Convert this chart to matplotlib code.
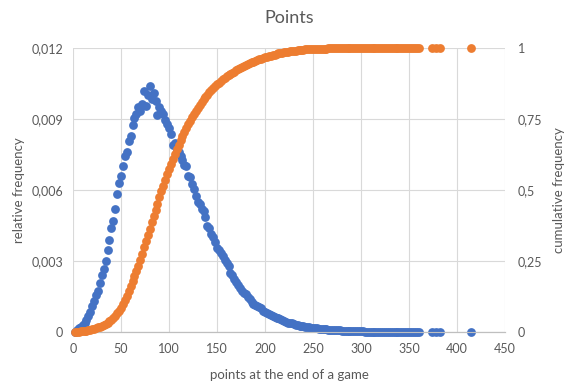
import numpy as np
import matplotlib.pyplot as plt

# points at the end of a game (x), every second value plus the few stragglers
points = list(range(2, 361, 2)) + [374, 378, 382, 415]

# relative frequency (left axis)
rel_freq = [
    0.00002, 0.00008, 0.00015, 0.00022, 0.00030, 0.00040, 0.00052, 0.00066, 0.00085, 0.00110,
    0.00130, 0.00155, 0.00175, 0.00205, 0.00240, 0.00265, 0.00300, 0.00345, 0.00390, 0.00440,
    0.00470, 0.00520, 0.00585, 0.00630, 0.00660, 0.00700, 0.00745, 0.00760, 0.00805, 0.00830,
    0.00875, 0.00905, 0.00920, 0.00950, 0.00935, 0.00965, 0.01020, 0.00955, 0.01000, 0.01040,
    0.00985, 0.01010, 0.00975, 0.00915, 0.00950, 0.00935, 0.00920, 0.00895, 0.00880, 0.00860,
    0.00835, 0.00790, 0.00800, 0.00770, 0.00760, 0.00745, 0.00725, 0.00705, 0.00700, 0.00660,
    0.00655, 0.00625, 0.00605, 0.00575, 0.00550, 0.00540, 0.00520, 0.00510, 0.00485, 0.00450,
    0.00440, 0.00415, 0.00400, 0.00380, 0.00355, 0.00345, 0.00335, 0.00320, 0.00305, 0.00290,
    0.00280, 0.00250, 0.00240, 0.00225, 0.00210, 0.00200, 0.00185, 0.00175, 0.00165, 0.00160,
    0.00148, 0.00140, 0.00128, 0.00120, 0.00115, 0.00110, 0.00105, 0.00100, 0.00090, 0.00085,
    0.00080, 0.00076, 0.00072, 0.00066, 0.00063, 0.00060, 0.00058, 0.00055, 0.00050, 0.00046,
    0.00043, 0.00040, 0.00038, 0.00036, 0.00033, 0.00030, 0.00029, 0.00027, 0.00025, 0.00024,
    0.00022, 0.00021, 0.00020, 0.00019, 0.00018, 0.00016, 0.00015, 0.00014, 0.00013, 0.00012,
    0.00011, 0.00011, 0.00010, 0.00009, 0.00009, 0.00008, 0.00008, 0.00007, 0.00007, 0.00006,
    0.00006, 0.00005, 0.00005, 0.00005, 0.00004, 0.00004, 0.00004, 0.00003, 0.00003, 0.00003,
    0.00003, 0.00002, 0.00002, 0.00002, 0.00002, 0.00002, 0.00002, 0.00001, 0.00001, 0.00001,
    0.00001, 0.00001, 0.00001, 0.00001, 0.00001, 0.00001, 0.00001, 0.00001, 0.00001, 0.00001,
    0.00001, 0.00001, 0.00001, 0.00001, 0.00000, 0.00001, 0.00000, 0.00000, 0.00000, 0.00000,
    0.0, 0.0, 0.0, 0.0,
]

# cumulative frequency (right axis)
cum_freq = [
    0.000, 0.001, 0.001, 0.002, 0.003, 0.004, 0.005, 0.006, 0.008, 0.010,
    0.012, 0.014, 0.016, 0.018, 0.021, 0.024, 0.028, 0.032, 0.037, 0.043,
    0.050, 0.057, 0.066, 0.075, 0.085, 0.098, 0.112, 0.127, 0.145, 0.163,
    0.180, 0.198, 0.215, 0.234, 0.254, 0.276, 0.298, 0.320, 0.342, 0.364,
    0.386, 0.408, 0.430, 0.452, 0.474, 0.495, 0.515, 0.535, 0.555, 0.574,
    0.592, 0.610, 0.627, 0.644, 0.660, 0.675, 0.690, 0.704, 0.718, 0.731,
    0.744, 0.756, 0.768, 0.779, 0.790, 0.800, 0.810, 0.819, 0.828, 0.836,
    0.844, 0.852, 0.859, 0.866, 0.872, 0.878, 0.884, 0.890, 0.895, 0.900,
    0.905, 0.909, 0.913, 0.917, 0.921, 0.925, 0.929, 0.933, 0.937, 0.940,
    0.943, 0.946, 0.949, 0.952, 0.955, 0.958, 0.961, 0.963, 0.965, 0.967,
    0.969, 0.971, 0.973, 0.975, 0.977, 0.979, 0.981, 0.982, 0.984, 0.985,
    0.986, 0.987, 0.988, 0.989, 0.990, 0.991, 0.992, 0.993, 0.994, 0.994,
    0.995, 0.995, 0.996, 0.996, 0.997, 0.997, 0.997, 0.998, 0.998, 0.998,
    0.998, 0.998, 0.999, 0.999, 0.999, 0.999, 0.999, 0.999, 0.999, 0.999,
    0.999, 0.999, 0.999, 0.999, 0.999, 1.000, 1.000, 1.000, 1.000, 1.000,
    1.000, 1.000, 1.000, 1.000, 1.000, 1.000, 1.000, 1.000, 1.000, 1.000,
    1.000, 1.000, 1.000, 1.000, 1.000, 1.000, 1.000, 1.000, 1.000, 1.000,
    1.000, 1.000, 1.000, 1.000, 1.000, 1.000, 1.000, 1.000, 1.000, 1.000,
    1.0, 1.0, 1.0, 1.0,
]

x_ticks = [0, 50, 100, 150, 200, 250, 300, 350, 400, 450]
left_ticks = [0, 0.003, 0.006, 0.009, 0.012]
left_labels = ["0", "0,003", "0,006", "0,009", "0,012"]
right_ticks = [0, 0.25, 0.5, 0.75, 1]
right_labels = ["0", "0,25", "0,5", "0,75", "1"]

BLUE = "#4472C4"
ORANGE = "#ED7D31"
TEXT = "#595959"
GRID = "#D9D9D9"

plt.rcParams['font.family'] = ['Lato', 'DejaVu Sans']

fig = plt.figure(figsize=(5.74, 3.91), dpi=100)
ax = fig.add_axes([73 / 574, 1 - 332 / 391, 432 / 574, 284 / 391])
ax2 = ax.twinx()

ax.scatter(points, rel_freq, s=40, color=BLUE, linewidths=0, clip_on=False, zorder=3)
ax2.scatter(points, cum_freq, s=40, color=ORANGE, linewidths=0, clip_on=False, zorder=3)

ax.set_xlim(0, 450)
ax.set_ylim(0, 0.012)
ax2.set_ylim(0, 1)

ax.set_xticks(x_ticks)
ax.set_xticklabels([str(t) for t in x_ticks])
ax.set_yticks(left_ticks)
ax.set_yticklabels(left_labels)
ax2.set_yticks(right_ticks)
ax2.set_yticklabels(right_labels)

ax.grid(True, color=GRID, lw=0.8)
ax.set_axisbelow(True)

for a in (ax, ax2):
    for side in ("top", "left", "right"):
        a.spines[side].set_visible(False)
    a.spines["bottom"].set_color("#BFBFBF")
    a.tick_params(length=0, colors=TEXT, labelsize=9)
ax.tick_params(axis="x", pad=8)
ax.tick_params(axis="y", pad=7)
ax2.tick_params(axis="y", pad=9)

ax.set_xlabel("points at the end of a game", color=TEXT, fontsize=9.5)
ax.xaxis.set_label_coords(0.5, -0.13)
ax.set_ylabel("relative frequency", color=TEXT, fontsize=9.5)
ax.yaxis.set_label_coords(-0.111, 0.5)
ax2.set_ylabel("cumulative frequency", color=TEXT, fontsize=9.5, rotation=90)
ax2.yaxis.set_label_coords(1.111, 0.5)

fig.text(0.503, 1 - 18 / 391, "Points", ha="center", va="center", color=TEXT, fontsize=13)

fig.savefig("out.png", dpi=100)
